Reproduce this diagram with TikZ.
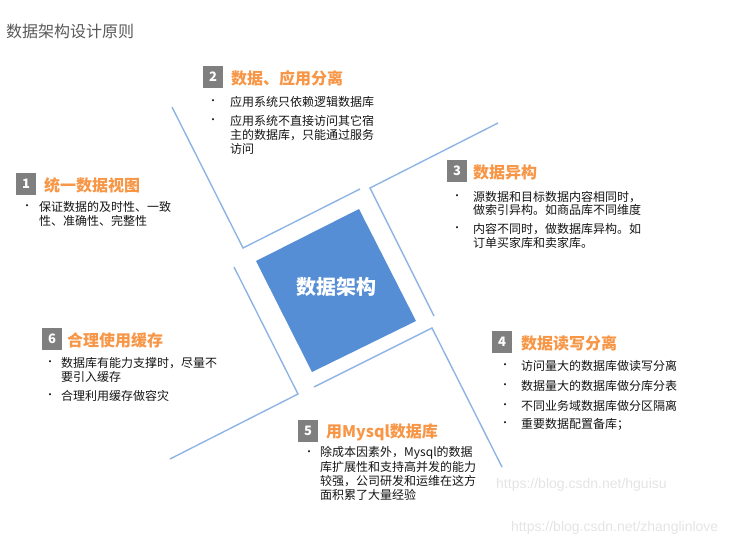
\documentclass[tikz,border=0pt]{standalone}
\usepackage{fontspec}
\setmainfont{Noto Sans CJK SC}
\newfontfamily\wmfont{Liberation Sans}
\definecolor{lineblue}{RGB}{142,180,227}
\definecolor{sqblue}{RGB}{85,142,213}
\definecolor{ttlorange}{RGB}{247,150,70}
\definecolor{boxgray}{RGB}{127,127,127}
\definecolor{txtblack}{RGB}{20,20,20}
\definecolor{headgray}{RGB}{89,89,89}
\definecolor{wmgray}{RGB}{228,228,228}
\tikzset{
  lshape/.style={draw=lineblue, line width=1.4pt},
  txt/.style={font=\fontsize{12}{14}\selectfont, anchor=west, inner sep=0pt, text=txtblack},
  dotmark/.style={font=\fontsize{10}{10}\selectfont, anchor=center, inner sep=0pt, text=txtblack},
  numbox/.style={fill=boxgray, minimum width=20pt, minimum height=22pt, inner sep=0pt, text=white, font=\bfseries\fontsize{13}{13}\selectfont},
  ttl/.style={text=ttlorange, font=\bfseries\fontsize{16}{16}\selectfont, anchor=west, inner sep=0pt},
  wm/.style={text=wmgray, font=\wmfont\fontsize{14}{14}\selectfont, anchor=west, inner sep=0pt}
}
\begin{document}
\begin{tikzpicture}[x=1pt,y=-1pt]
\useasboundingbox (0,0) rectangle (755,546);
% header
\node[anchor=west, inner sep=0pt, text=headgray, font=\fontsize{16}{16}\selectfont] (head) at (6,31) {数据架构设计原则};
% L-shaped frames
\coordinate (a1) at (172,107); \coordinate (a2) at (243,248); \coordinate (a3) at (360,189);
\coordinate (b1) at (498,123); \coordinate (b2) at (370,188); \coordinate (b3) at (434,316);
\coordinate (c1) at (314,387); \coordinate (c2) at (432,328); \coordinate (c3) at (502,467);
\coordinate (d1) at (234,267); \coordinate (d2) at (298,394); \coordinate (d3) at (170,459);
\draw[lshape] (a1) -- (a2) -- (a3);
\draw[lshape] (b1) -- (b2) -- (b3);
\draw[lshape] (c1) -- (c2) -- (c3);
\draw[lshape] (d1) -- (d2) -- (d3);
% central square
\fill[sqblue] (359,209) -- (416,321) -- (312,372) -- (256,261) -- cycle;
\node[text=white, font=\bfseries\fontsize{20}{20}\selectfont, inner sep=0pt] (core) at (336,287) {数据架构};
% section 1
\node[numbox] (n1) at (26,184) {1};
\node[ttl] (t1) at (44,185) {统一数据视图};
\node[dotmark] (d1a) at (27,207) {•};
\node[txt] (s1a) at (39,207) {保证数据的及时性、一致};
\node[txt] (s1b) at (39,221) {性、准确性、完整性};
% section 2
\node[numbox] (n2) at (213,77) {2};
\node[ttl] (t2) at (231,78) {数据、应用分离};
\node[dotmark] (d2a) at (213,102) {•};
\node[txt] (s2a) at (230,102) {应用系统只依赖逻辑数据库};
\node[dotmark] (d2b) at (213,121) {•};
\node[txt] (s2b) at (230,121) {应用系统不直接访问其它宿};
\node[txt] (s2c) at (230,135) {主的数据库，只能通过服务};
\node[txt] (s2d) at (230,149) {访问};
% section 3
\node[numbox] (n3) at (457,171) {3};
\node[ttl] (t3) at (473,172) {数据异构};
\node[dotmark] (d3a) at (457,197) {•};
\node[txt] (s3a) at (473,197) {源数据和目标数据内容相同时，};
\node[txt] (s3b) at (473,210) {做索引异构。如商品库不同维度};
\node[dotmark] (d3b) at (457,229) {•};
\node[txt] (s3c) at (473,229) {内容不同时，做数据库异构。如};
\node[txt] (s3d) at (473,243) {订单买家库和卖家库。};
% section 4
\node[numbox] (n4) at (502,342) {4};
\node[ttl] (t4) at (521,343) {数据读写分离};
\node[dotmark] (d4a) at (505,366) {•};
\node[txt] (s4a) at (521,366) {访问量大的数据库做读写分离};
\node[dotmark] (d4b) at (505,386) {•};
\node[txt] (s4b) at (521,386) {数据量大的数据库做分库分表};
\node[dotmark] (d4c) at (505,406) {•};
\node[txt] (s4c) at (521,406) {不同业务域数据库做分区隔离};
\node[dotmark] (d4d) at (505,424) {•};
\node[txt] (s4d) at (521,424) {重要数据配置备库；};
% section 5
\node[numbox] (n5) at (308,431) {5};
\node[ttl] (t5) at (326,432) {用Mysql数据库};
\node[dotmark] (d5a) at (309,453) {•};
\node[txt] (s5a) at (320,453) {除成本因素外，Mysql的数据};
\node[txt] (s5b) at (320,467) {库扩展性和支持高并发的能力};
\node[txt] (s5c) at (320,481) {较强，公司研发和运维在这方};
\node[txt] (s5d) at (320,495) {面积累了大量经验};
% section 6
\node[numbox] (n6) at (52,339) {6};
\node[ttl] (t6) at (67,340) {合理使用缓存};
\node[dotmark] (d6a) at (50,363) {•};
\node[txt] (s6a) at (61,363) {数据库有能力支撑时，尽量不};
\node[txt] (s6b) at (61,377) {要引入缓存};
\node[dotmark] (d6b) at (50,396) {•};
\node[txt] (s6c) at (61,396) {合理利用缓存做容灾};
% watermarks
\node[wm] (w1) at (496,485) {https://blog.csdn.net/hguisu};
\node[wm] (w2) at (511,528) {https://blog.csdn.net/zhanglinlove};
\end{tikzpicture}
\end{document}
